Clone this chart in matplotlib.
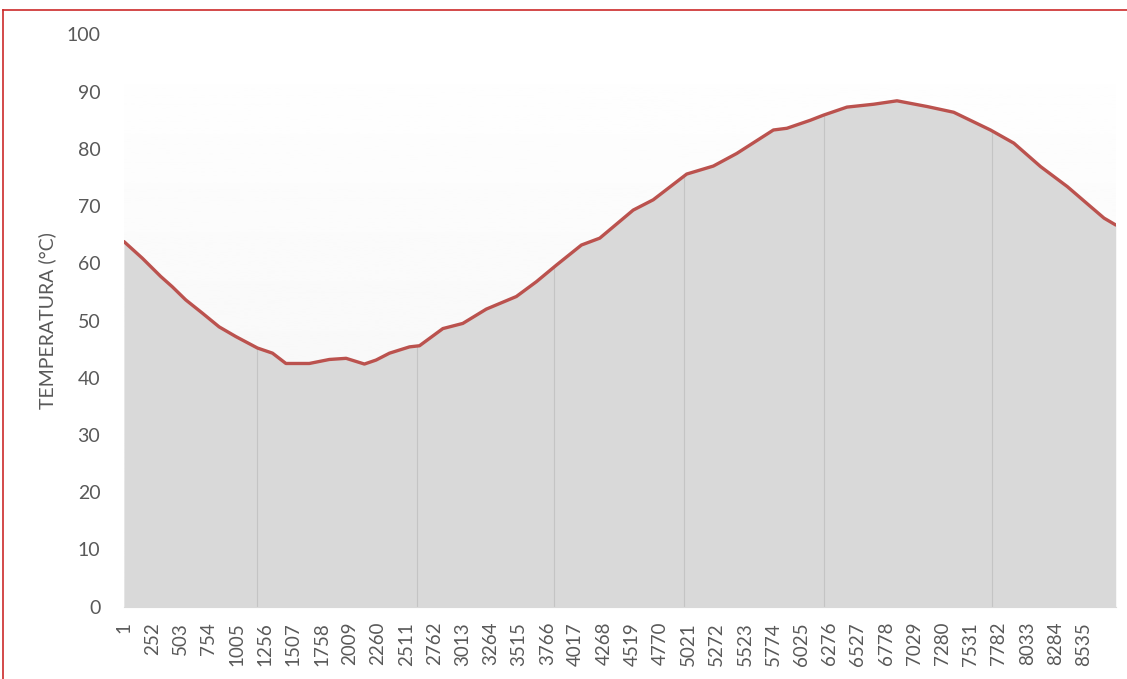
import numpy as np
import matplotlib.pyplot as plt
from matplotlib.lines import Line2D

plt.rcParams['font.family'] = ['Lato', 'DejaVu Sans']

# Dane (numer próbki, temperatura °C)
probka = [1, 164, 328, 431, 551, 698, 847, 996, 1188, 1322, 1441, 1649, 1827,
          1976, 2139, 2243, 2362, 2540, 2629, 2837, 3014, 3223, 3490, 3669,
          3847, 4069, 4232, 4529, 4707, 5005, 5242, 5450, 5776, 5896, 6104,
          6222, 6430, 6667, 6875, 7143, 7379, 7706, 7914, 8152, 8390, 8597,
          8716, 8820]
temperatura = [63.8, 60.9, 57.7, 55.9, 53.6, 51.3, 48.9, 47.2, 45.2, 44.3,
               42.5, 42.5, 43.2, 43.4, 42.4, 43.1, 44.3, 45.4, 45.6, 48.6,
               49.5, 52.0, 54.2, 56.8, 59.7, 63.2, 64.4, 69.3, 71.1, 75.6,
               77.0, 79.2, 83.3, 83.6, 85.0, 85.9, 87.3, 87.8, 88.4, 87.4,
               86.4, 83.3, 81.0, 76.9, 73.4, 69.9, 67.9, 66.7]

etykiety_x = list(range(1, 8536, 251))
linie_pionowe = [1186, 2611, 3823, 4981, 6228, 7724]

szary = '#595959'

fig = plt.figure(figsize=(11.27, 6.79), dpi=100)
ax = fig.add_axes([0.110, 0.1065, 0.880, 0.8428])

# Tło z delikatnym gradientem
grad = np.linspace(0.955, 1.0, 256).reshape(-1, 1)
ax.imshow(grad, extent=[probka[0], probka[-1], 0, 100], origin='lower',
          aspect='auto', cmap='gray', vmin=0, vmax=1, zorder=0)

ax.fill_between(probka, temperatura, 0, color='#d9d9d9', zorder=1, lw=0)
ax.vlines(linie_pionowe, 0, np.interp(linie_pionowe, probka, temperatura),
          color='#c4c4c4', lw=0.8, zorder=2)
ax.plot(probka, temperatura, color='#bb524e', lw=2.4, zorder=3,
        solid_capstyle='round')

ax.set_xlim(probka[0], probka[-1])
ax.set_ylim(0, 100)
ax.set_yticks(range(0, 101, 10))
ax.set_xticks(etykiety_x)
ax.set_xticklabels([str(v) for v in etykiety_x], rotation=90, va='top',
                   ha='center')
ax.tick_params(axis='y', length=0, pad=17, labelsize=14, labelcolor=szary)
ax.tick_params(axis='x', length=0, pad=11, labelsize=13.5, labelcolor=szary)

for s in ['top', 'right', 'left']:
    ax.spines[s].set_visible(False)
ax.spines['bottom'].set_color('#d9d9d9')

ax.set_ylabel('TEMPERATURA (°C)', fontsize=14, color=szary, labelpad=7)

# Czerwona ramka (lewa i górna krawędź)
W, H = 1127, 679
fig.add_artist(Line2D([3 / W, 3 / W], [0, 1 - 10 / H], color='#cc2a2a',
                      lw=1.2, transform=fig.transFigure))
fig.add_artist(Line2D([3 / W, 1], [1 - 10 / H, 1 - 10 / H], color='#cc2a2a',
                      lw=1.2, transform=fig.transFigure))

fig.savefig('out.png', dpi=100)
